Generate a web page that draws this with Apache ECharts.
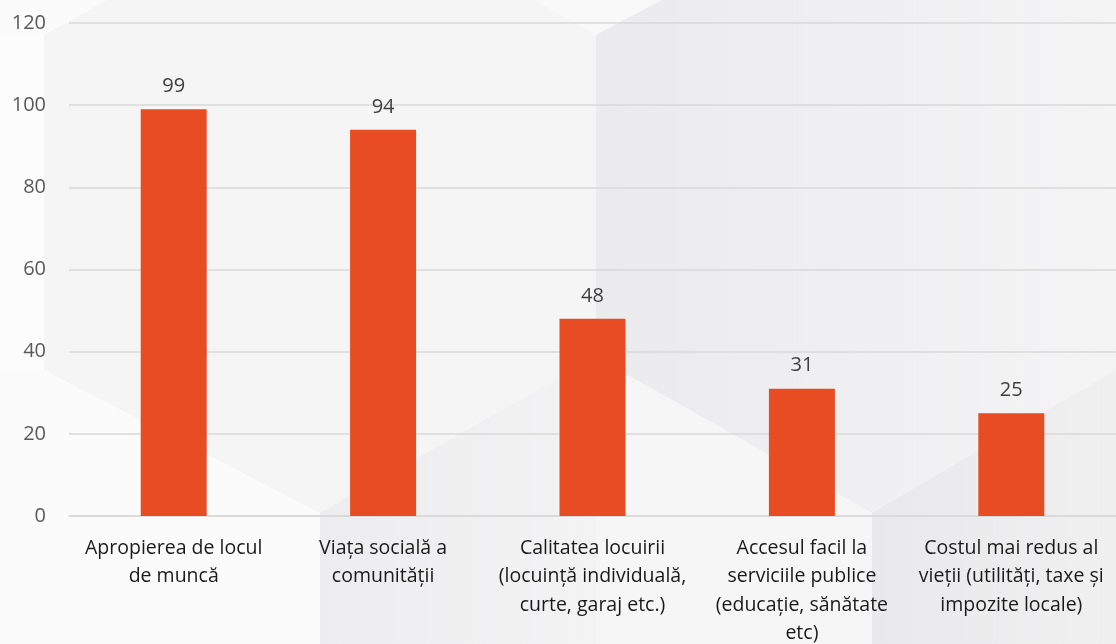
<!DOCTYPE html>
<html><head><meta charset="utf-8">
<script src="https://cdn.jsdelivr.net/npm/echarts@6/dist/echarts.min.js"></script>
<style>html,body{margin:0;padding:0;background:#f5f5f6;}#c{width:1116px;height:644px;}</style>
</head><body><div id="c"></div>
<script>
const categories = [
  'Apropierea de locul\nde muncă',
  'Viața socială a\ncomunității',
  'Calitatea locuirii\n(locuință individuală,\ncurte, garaj etc.)',
  'Accesul facil la\nserviciile publice\n(educație, sănătate\netc)',
  'Costul mai redus al\nvieții (utilități, taxe și\nimpozite locale)'
];
const values = [99, 94, 48, 31, 25];
const yTicks = [0, 20, 40, 60, 80, 100, 120];

const chart = echarts.init(document.getElementById('c'));
const FONT = 'Open Sans';
chart.setOption({
  backgroundColor: '#f5f5f6',
  textStyle: { fontFamily: FONT },
  graphic: [
    { type: 'polygon', z: -10, silent: true, shape: { points: [[0,0],[107,0],[44,35],[0,35]] }, style: { fill: '#fbfbfb' } },
    { type: 'polygon', z: -10, silent: true, shape: { points: [[0,35],[44,35],[44,370],[0,370]] }, style: { fill: '#fcfcfc' } },
    { type: 'polygon', z: -10, silent: true, shape: { points: [[0,370],[44,370],[320,513],[320,644],[0,644]] }, style: { fill: '#fbfbfb' } },
    { type: 'polygon', z: -10, silent: true, shape: { points: [[534,0],[662,0],[596,35]] }, style: { fill: '#f9f9f9' } },
    { type: 'polygon', z: -10, silent: true, shape: { points: [[596,35],[662,0],[1116,0],[1116,370],[872,513],[626,374],[596,357]] },
      style: { fill: { type: 'linear', x: 0, y: 0, x2: 1, y2: 0, colorStops: [{ offset: 0, color: '#ebebee' }, { offset: 1, color: '#f4f4f5' }] } } },
    { type: 'polygon', z: -10, silent: true, shape: { points: [[596,357],[626,374],[872,513],[872,644],[596,644]] }, style: { fill: '#f6f6f6' } },
    { type: 'polygon', z: -10, silent: true, shape: { points: [[320,513],[596,357],[596,644],[320,644]] },
      style: { fill: { type: 'linear', x: 0, y: 0, x2: 1, y2: 0, colorStops: [{ offset: 0, color: '#ededef' }, { offset: 1, color: '#f3f3f4' }] } } },
    { type: 'polygon', z: -10, silent: true, shape: { points: [[872,513],[1116,370],[1116,644],[872,644]] },
      style: { fill: { type: 'linear', x: 0, y: 0, x2: 1, y2: 0, colorStops: [{ offset: 0, color: '#e9e9eb' }, { offset: 1, color: '#f0f0f1' }] } } }
  ],
  grid: { left: 69, right: 0, top: 23, bottom: 128, containLabel: false, outerBoundsMode: 'none' },
  xAxis: {
    type: 'category',
    data: categories,
    axisLine: { show: true, lineStyle: { color: '#d9d9d9', width: 1.5 } },
    axisTick: { show: false },
    axisLabel: { interval: 0, color: '#1a1a1a', fontSize: 19.5, lineHeight: 28.5, margin: 18, fontFamily: FONT }
  },
  yAxis: {
    type: 'value',
    min: 0, max: 120, interval: 20,
    axisLine: { show: false },
    axisTick: { show: false },
    splitLine: { lineStyle: { color: '#d9d9d9', width: 1.5 } },
    axisLabel: { color: '#595959', fontSize: 20, margin: 23, fontFamily: FONT,
      formatter: v => yTicks.includes(v) ? String(v) : '' }
  },
  series: [{
    type: 'bar',
    data: values,
    barWidth: 66,
    itemStyle: { color: '#e84c22' },
    label: { show: true, position: 'top', distance: 13, color: '#404040', fontSize: 20, fontFamily: FONT },
    silent: true,
    animation: false
  }],
  animation: false
});
</script>
</body></html>
